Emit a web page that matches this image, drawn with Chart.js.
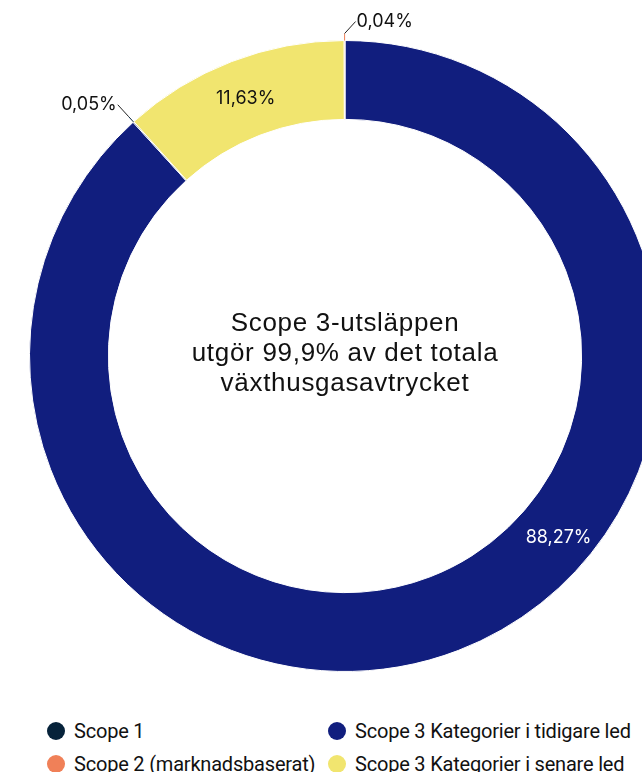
<!DOCTYPE html>
<html>
<head>
<meta charset="utf-8">
<script src="https://cdn.jsdelivr.net/npm/chart.js@4.4.1/dist/chart.umd.min.js"></script>
<style>
  html, body { margin: 0; padding: 0; width: 642px; height: 772px; overflow: hidden; background: #fff; }
  #wrap { position: absolute; left: 0; top: 0; width: 690px; height: 712px; }
  .legend { position: absolute; font-family: Roboto, sans-serif; font-size: 20px; color: #111; letter-spacing: -0.2px; }
  .legend .item { position: absolute; white-space: nowrap; display: flex; align-items: center; }
  .legend .dot { width: 18px; height: 18px; border-radius: 50%; margin-right: 9px; }
</style>
</head>
<body>
<div id="wrap"><canvas id="scopeChart" width="690" height="712"></canvas></div>
<div class="legend" id="legend"></div>
<script>
// Emission shares per scope (percent)
const labels = ['Scope 3 Kategorier i tidigare led', 'Scope 1', 'Scope 3 Kategorier i senare led', 'Scope 2 (marknadsbaserat)'];
const values = [88.27, 0.05, 11.63, 0.04];
const colors = ['#111E7E', '#06223A', '#F1E56F', '#F08058'];

// legend order differs from slice order
const legendOrder = [1, 0, 3, 2];
const centerLines = ['Scope 3-utsläppen', 'utgör 99,9% av det totala', 'växthusgasavtrycket'];

function fmt(v) {
    return v.toFixed(2).replace('.', ',') + '%';
}

// percent labels: inside the ring for big slices, leader line for tiny ones
const sliceLabels = {
    id: 'sliceLabels',
    afterDatasetsDraw(chart) {
        const ctx = chart.ctx;
        const arcs = chart.getDatasetMeta(0).data;
        ctx.save();
        ctx.font = '18px Inter, sans-serif';
        ctx.textBaseline = 'middle';
        arcs.forEach((arc, i) => {
            const v = values[i];
            const span = arc.endAngle - arc.startAngle;
            if (v > 5) {
                const frac = i === 0 ? 0.41 : 0.5;
                const a = arc.startAngle + span * frac;
                const r = (arc.innerRadius + arc.outerRadius) / 2 + (i === 0 ? 4 : 0);
                ctx.fillStyle = i === 0 ? '#fff' : '#111';
                ctx.textAlign = 'center';
                ctx.fillText(fmt(v), arc.x + r * Math.cos(a), arc.y + r * Math.sin(a));
            } else {
                const a = arc.startAngle + span / 2;
                const x0 = arc.x + arc.outerRadius * Math.cos(a);
                const y0 = arc.y + arc.outerRadius * Math.sin(a);
                const x1 = arc.x + (arc.outerRadius + 7) * Math.cos(a);
                const y1 = arc.y + (arc.outerRadius + 7) * Math.sin(a);
                // slices right at the top still get their label on the right
                const sx = Math.cos(a) > -0.1 ? 1 : -1;
                const x2 = x1 + sx * 11;
                const y2 = y1 - 12;
                ctx.lineWidth = 1;
                ctx.strokeStyle = colors[i];
                ctx.beginPath();
                ctx.moveTo(x0, y0);
                ctx.lineTo(x1, y1);
                ctx.stroke();
                ctx.strokeStyle = '#222';
                ctx.beginPath();
                ctx.moveTo(x1, y1);
                ctx.lineTo(x2, y2);
                ctx.stroke();
                ctx.fillStyle = '#111';
                ctx.textAlign = sx > 0 ? 'left' : 'right';
                ctx.fillText(fmt(v), x2 + sx * 1, y2);
            }
        });
        ctx.restore();
    }
};

const centerText = {
    id: 'centerText',
    afterDraw(chart) {
        const ctx = chart.ctx;
        const arc = chart.getDatasetMeta(0).data[0];
        ctx.save();
        ctx.font = '26px "Liberation Sans", Arial, sans-serif';
        ctx.letterSpacing = '0.7px';
        ctx.fillStyle = '#111';
        ctx.textAlign = 'center';
        ctx.textBaseline = 'alphabetic';
        centerLines.forEach((line, i) => {
            ctx.fillText(line, arc.x, arc.y - 25 + i * 30);
        });
        ctx.restore();
    }
};

const ctx = document.getElementById('scopeChart').getContext('2d');
new Chart(ctx, {
    type: 'doughnut',
    data: {
        labels: labels,
        datasets: [{
            data: values,
            backgroundColor: colors,
            borderColor: '#fff',
            borderWidth: 1,
        }]
    },
    options: {
        responsive: false,
        animation: false,
        cutout: '75%',
        layout: { padding: { left: 29, right: 29, top: 40, bottom: 40 } },
        plugins: {
            legend: { display: false },
            tooltip: { enabled: false },
        }
    },
    plugins: [sliceLabels, centerText]
});

// html legend in two columns
const legendEl = document.getElementById('legend');
const legendPos = [[47, 719], [328, 719], [47, 752], [328, 752]];
legendOrder.forEach((idx, k) => {
    const item = document.createElement('div');
    item.className = 'item';
    item.style.left = legendPos[k][0] + 'px';
    item.style.top = legendPos[k][1] + 'px';
    item.innerHTML = '<span class="dot" style="background:' + colors[idx] + '"></span><span>' + labels[idx] + '</span>';
    legendEl.appendChild(item);
});
</script>
</body>
</html>
